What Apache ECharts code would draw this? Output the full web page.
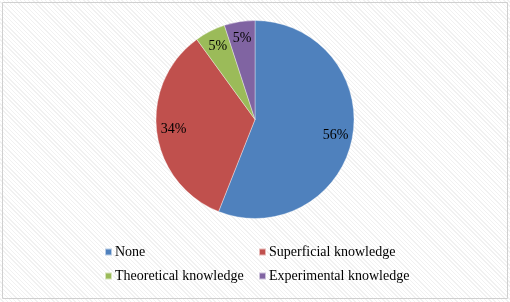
<!DOCTYPE html>
<html>
<head>
<meta charset="utf-8">
<script src="https://cdn.jsdelivr.net/npm/echarts@6/dist/echarts.min.js"></script>
<style>
html,body{margin:0;padding:0;}
#c{width:510px;height:302px;background:repeating-linear-gradient(45deg,#ffffff 0px,#ffffff 2px,#f1f1f1 2px,#f1f1f1 3px);}
</style>
</head>
<body>
<div id="c"></div>
<script>
const categories = ['None', 'Superficial knowledge', 'Theoretical knowledge', 'Experimental knowledge'];
const values = [56, 34, 5, 5];
const colors = ['#4F81BD', '#C0504D', '#9BBB59', '#8064A2'];

const chart = echarts.init(document.getElementById('c'), null, {renderer: 'canvas'});
const data = categories.map((n, i) => ({name: n, value: values[i], itemStyle: {color: colors[i]}}));
const font = '"Liberation Serif", "Times New Roman", serif';
const legendPos = [[104, 245], [258, 245], [104, 269], [258, 269]];
const legends = categories.map((n, i) => ({
  data: [n], left: legendPos[i][0], top: legendPos[i][1], orient: 'horizontal',
  itemWidth: 7, itemHeight: 7, itemGap: 4, icon: 'rect', selectedMode: false,
  padding: 0, textStyle: {fontFamily: font, fontSize: 14, color: '#000', padding: [0, 0, 0, -2]}
}));
chart.setOption({
  backgroundColor: 'transparent',
  animation: false,
  legend: legends,
  graphic: [{type: 'rect', shape: {x: 2.5, y: 2.5, width: 505, height: 296}, style: {fill: null, stroke: '#d0d0d0', lineWidth: 1}, silent: true}],
  series: [
    {
      type: 'pie', center: [255, 119.5], radius: [0, 99], startAngle: 90, clockwise: true,
      data: data, label: {show: false}, labelLine: {show: false},
      itemStyle: {borderColor: 'rgba(255,255,255,0.6)', borderWidth: 0.6}, silent: true
    },
    {
      type: 'pie', center: [255, 119.5], radius: [58, 100], startAngle: 90, clockwise: true,
      data: data.map(d => ({name: d.name, value: d.value, itemStyle: {color: 'rgba(0,0,0,0)'}})),
      silent: true, legendHoverLink: false,
      label: {show: true, position: 'inside', formatter: p => p.value + '%', fontFamily: font, fontSize: 14, color: '#000'},
      labelLine: {show: false}
    }
  ]
});
</script>
</body>
</html>
